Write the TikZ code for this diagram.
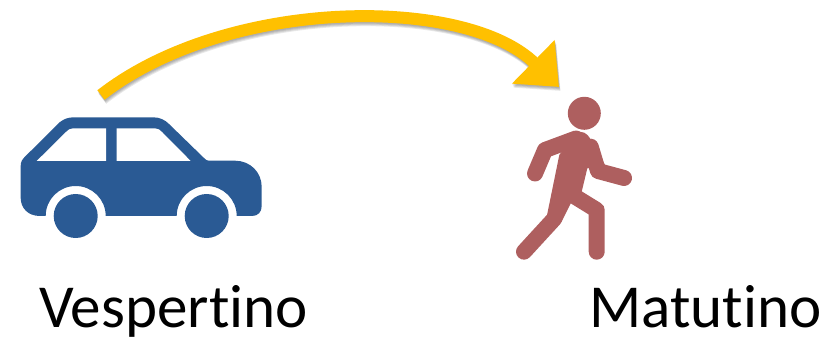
\documentclass[tikz,border=0pt]{standalone}
\usepackage{fontspec}
\setmainfont[Ligatures=NoCommon]{Carlito}
\usetikzlibrary{arrows.meta}
\definecolor{carblue}{HTML}{2A5A94}
\definecolor{walkred}{HTML}{AE5F5F}
\definecolor{arrowyellow}{HTML}{FFC000}
\tikzset{
  caption/.style={font=\fontsize{45.8}{50}\selectfont, inner sep=0pt, anchor=base},
  limb/.style={draw=walkred, line width=12pt, line cap=round, line join=round},
  bigarrow/.style={line width=9pt, -{Triangle[length=27pt, width=44pt]}},
}
\begin{document}
\begin{tikzpicture}[x=0.75pt, y=-0.75pt]
  \useasboundingbox (0,0) rectangle (837,341);
  \coordinate (start) at (101,95);
  \coordinate (stop) at (559,87);
  % shadow of the arrow
  \foreach \off in {0.9,1.6,2.3,3.0}
    \draw[bigarrow, black, opacity=0.09, transform canvas={xshift=0.4*\off pt, yshift=-\off pt}]
      (start) .. controls (227,-3) and (465,-5) .. (stop);
  \draw[bigarrow, arrowyellow] (start) .. controls (227,-3) and (465,-5) .. (stop);
  % car
  \fill[carblue] (25,156.7) -- (60,122) .. controls (64,119) and (68,117.3) .. (74,117.3)
    -- (153,117.3) .. controls (160,117.3) and (165,120) .. (169,124)
    -- (204,158) .. controls (206,160) and (207,160.7) .. (209,160.7)
    -- (235,160.7) .. controls (250,160.7) and (261.7,172) .. (261.7,187)
    -- (261.7,206) .. controls (261.7,212) and (258,216) .. (252,216)
    -- (236.7,216) arc[start angle=0, end angle=-180, radius=30]
    -- (105.7,216) arc[start angle=0, end angle=-180, radius=30]
    -- (40,216) .. controls (28,216) and (20.7,208) .. (20.7,198)
    -- (20.7,166) .. controls (20.7,162) and (22,159.5) .. (25,156.7) -- cycle;
  \fill[white] (36.7,161) -- (66,132) .. controls (68,130) and (70,128.3) .. (73,128.3)
    -- (106,128.3) -- (106,161) -- cycle;
  \fill[white] (116.7,161) -- (116.7,128.3) -- (155,128.3) .. controls (158,128.3) and (160,130) .. (162,132)
    -- (190.7,161) -- cycle;
  \fill[carblue] (75.7,216) circle (22);
  \fill[carblue] (206.7,216) circle (22);
  % walker
  \fill[walkred] (584.3,113.3) circle (16.5);
  \fill[walkred] (576,132.5) .. controls (582,130.5) and (587,133) .. (590,138.3)
    -- (605,165) -- (587.3,168.3) -- (581.7,191.7) -- (566.7,200) -- (561.7,221.7)
    -- (546.7,216.7) -- (559.3,155) -- cycle;
  \draw[limb] (535,173.5) -- (545,150) -- (576,138.5);
  \draw[limb] (590.7,146.7) -- (598,171) -- (624,178);
  \draw[limb] (566,195) -- (554,219) -- (524,251.7);
  \draw[limb] (574,196) -- (596.7,210) -- (596.7,251.7);
  % labels
  \node[caption] (vesp) at (173.5,327.5) {Vespertino};
  \node[caption] (mat) at (705.5,327.5) {Matutino};
\end{tikzpicture}
\end{document}
